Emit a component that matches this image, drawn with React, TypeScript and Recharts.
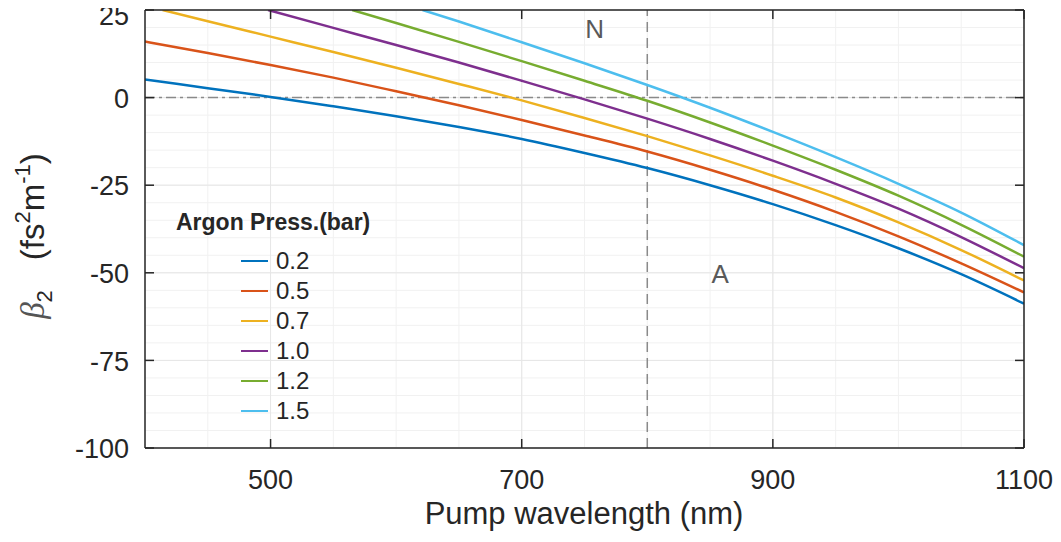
import React from 'react'
import { LineChart, Line, XAxis, YAxis, CartesianGrid, ReferenceLine, ReferenceDot, Legend } from 'recharts'

const FONT = '"Liberation Sans", Arial, Helvetica, sans-serif'
const INK = '#262626'

// pump wavelength (nm) and beta2 (fs^2/m), one pair per pressure
const wl02 = [400, 450, 500, 550, 600, 650, 700, 750, 800, 850, 900, 950, 1000, 1050, 1100]
const b02 = [5.2, 2.7, 0.2, -2.5, -5.3, -8.4, -11.8, -15.8, -20.1, -25.0, -30.4, -36.4, -43.0, -50.4, -58.8]
const wl05 = [400, 450, 500, 550, 600, 650, 700, 750, 800, 850, 900, 950, 1000, 1050, 1100]
const b05 = [16.0, 12.7, 9.3, 5.7, 1.8, -2.2, -6.4, -10.8, -15.4, -20.6, -26.3, -32.6, -39.6, -47.3, -55.6]
const wl07 = [414, 450, 500, 550, 600, 650, 700, 750, 800, 850, 900, 950, 1000, 1050, 1100]
const b07 = [25.0, 21.8, 17.4, 13.0, 8.5, 3.9, -0.8, -5.8, -11.0, -16.5, -22.3, -28.5, -35.6, -43.5, -52.2]
const wl10 = [498, 550, 600, 650, 700, 750, 800, 850, 900, 950, 1000, 1050, 1100]
const b10 = [25.0, 19.9, 15.0, 10.0, 4.8, -0.5, -6.0, -11.8, -18.0, -24.6, -31.7, -39.8, -48.7]
const wl12 = [565, 600, 650, 700, 750, 800, 850, 900, 950, 1000, 1050, 1100]
const b12 = [25.0, 21.3, 15.9, 10.4, 4.8, -0.9, -7.1, -13.7, -20.6, -28.0, -36.3, -45.4]
const wl15 = [621, 650, 700, 750, 800, 850, 900, 950, 1000, 1050, 1100]
const b15 = [25.0, 21.7, 15.8, 9.8, 3.6, -2.9, -9.8, -17.0, -24.6, -32.8, -42.1]

const pressures = ['0.2', '0.5', '0.7', '1.0', '1.2', '1.5']
const colors = ['#0072BD', '#D95319', '#EDB120', '#7E2F8E', '#77AC30', '#4DBEEE']
const wavelengths = [wl02, wl05, wl07, wl10, wl12, wl15]
const betas = [b02, b05, b07, b10, b12, b15]

const xTicks = [500, 700, 900, 1100]
const yTicks = [-100, -75, -50, -25, 0, 25]
const xMinor = [400, 450, 500, 550, 600, 650, 700, 750, 800, 850, 900, 950, 1000, 1050, 1100]
const yMinor = [-100, -95, -90, -85, -80, -75, -70, -65, -60, -55, -50, -45, -40, -35, -30, -25, -20, -15, -10, -5, 0, 5, 10, 15, 20, 25]

const annotations = [
  { text: 'N', wl: 758, beta: 19.6 },
  { text: 'A', wl: 858, beta: -50.3 },
]

const series = pressures.map((p, i) => ({
  name: p,
  color: colors[i],
  data: wavelengths[i].map((w, j) => ({ wl: w, beta: betas[i][j] })),
}))

const TICK_LEN = 9

const BottomTick = ({ x, y, payload }: any) => (
  <g>
    <line x1={x} y1={y} x2={x} y2={y - TICK_LEN} stroke={INK} strokeWidth={1.5} />
    <text x={x} y={y + 41} textAnchor="middle" fontSize={27} fill={INK} fontFamily={FONT}>{payload.value}</text>
  </g>
)

const TopTick = ({ x, y }: any) => (
  <line x1={x} y1={y} x2={x} y2={y + TICK_LEN} stroke={INK} strokeWidth={1.5} />
)

// the top label (25) sits on the window edge, so keep it a few px inside
const LeftTick = ({ x, y, payload }: any) => (
  <g>
    <line x1={x} y1={y} x2={x + TICK_LEN} y2={y} stroke={INK} strokeWidth={1.5} />
    <text x={x - 16} y={Math.max(y, 15)} dy="0.38em" textAnchor="end" fontSize={27} fill={INK} fontFamily={FONT}>{payload.value}</text>
  </g>
)

const RightTick = ({ x, y }: any) => (
  <line x1={x} y1={y} x2={x - TICK_LEN} y2={y} stroke={INK} strokeWidth={1.5} />
)

// beta_2 (fs^2 m^-1), rotated
const YLabel = () => (
  <text transform="translate(44,236) rotate(-90)" textAnchor="middle" fontSize={33} fill={INK} fontFamily={FONT}>
    <tspan fontStyle="italic" fontFamily='"Liberation Serif", serif' fill="#555">β</tspan>
    <tspan dy={8} fontSize={22}>2</tspan>
    <tspan dy={-8} dx={30}>(fs</tspan>
    <tspan dy={-14} fontSize={22}>2</tspan>
    <tspan dy={14}>m</tspan>
    <tspan dy={-14} fontSize={22}>-1</tspan>
    <tspan dy={14}>)</tspan>
  </text>
)

const XLabel = () => (
  <text x={584} y={524} textAnchor="middle" fontSize={31} fill={INK} fontFamily={FONT}>Pump wavelength (nm)</text>
)

const renderLegend = (props: any) => {
  const items = (props.payload || []).filter((p: any) => pressures.includes(p.value))
  return (
    <div style={{ fontFamily: FONT, color: INK }}>
      <div style={{ fontWeight: 'bold', fontSize: 23, lineHeight: '26px', marginBottom: 11, whiteSpace: 'nowrap' }}>Argon Press.(bar)</div>
      {items.map((p: any) => (
        <div key={p.value} style={{ display: 'flex', alignItems: 'center', height: 30, paddingLeft: 65 }}>
          <span style={{ display: 'inline-block', width: 27, height: 0, borderTop: `2.5px solid ${p.color}`, marginRight: 8 }} />
          <span style={{ fontSize: 24 }}>{p.value}</span>
        </div>
      ))}
    </div>
  )
}

export default function App() {
  return (
    <div style={{ width: 1061, height: 542, position: 'relative', margin: -8, background: '#fff' }}>
      <LineChart width={1061} height={542} margin={{ top: 9, right: 36, bottom: 0, left: 0 }} style={{ overflow: 'visible' }}>
        <CartesianGrid stroke="#f1f1f1" strokeWidth={1} verticalValues={xMinor} horizontalValues={yMinor} />
        <CartesianGrid stroke="#e6e6e6" strokeWidth={1} verticalValues={xTicks} horizontalValues={yTicks} />
        <XAxis
          dataKey="wl"
          type="number"
          domain={[400, 1100]}
          ticks={xTicks}
          interval={0}
          allowDataOverflow
          height={94}
          tickSize={0}
          tickMargin={0}
          stroke={INK}
          strokeWidth={1.5}
          tick={(p: any) => <BottomTick {...p} />}
          label={<XLabel />}
        />
        <XAxis
          xAxisId="top"
          dataKey="wl"
          orientation="top"
          type="number"
          domain={[400, 1100]}
          ticks={xTicks}
          interval={0}
          allowDataOverflow
          height={1}
          tickSize={0}
          tickMargin={0}
          stroke={INK}
          strokeWidth={1.5}
          tick={(p: any) => <TopTick {...p} />}
        />
        <YAxis
          type="number"
          domain={[-100, 25]}
          ticks={yTicks}
          interval={0}
          allowDataOverflow
          width={145}
          tickSize={0}
          tickMargin={0}
          stroke={INK}
          strokeWidth={1.5}
          tick={(p: any) => <LeftTick {...p} />}
          label={<YLabel />}
        />
        <YAxis
          yAxisId="right"
          orientation="right"
          type="number"
          domain={[-100, 25]}
          ticks={yTicks}
          interval={0}
          allowDataOverflow
          width={1}
          tickSize={0}
          tickMargin={0}
          stroke={INK}
          strokeWidth={1.5}
          tick={(p: any) => <RightTick {...p} />}
        />
        <ReferenceLine y={0} stroke="#8a8a8a" strokeWidth={1.5} strokeDasharray="10 4 3 4" />
        <ReferenceLine x={800} stroke="#8a8a8a" strokeWidth={1.5} strokeDasharray="10 6" />
        {series.map((s) => (
          <Line
            key={s.name}
            data={s.data}
            dataKey="beta"
            name={s.name}
            type="monotoneX"
            stroke={s.color}
            strokeWidth={2.5}
            dot={false}
            activeDot={false}
            isAnimationActive={false}
          />
        ))}
        {/* invisible copy of the first curve so that the mirrored top / right axes are drawn */}
        <Line
          data={series[0].data}
          dataKey="beta"
          name="mirror"
          xAxisId="top"
          yAxisId="right"
          stroke="none"
          legendType="none"
          dot={false}
          activeDot={false}
          isAnimationActive={false}
        />
        {annotations.map((a) => (
          <ReferenceDot
            key={a.text}
            x={a.wl}
            y={a.beta}
            r={1}
            fill="none"
            stroke="none"
            label={{ value: a.text, position: 'center', fontSize: 26, fill: '#595959', fontFamily: FONT }}
          />
        ))}
        <Legend
          layout="vertical"
          align="center"
          verticalAlign="middle"
          content={renderLegend}
          wrapperStyle={{ left: 176, top: 209, width: 'auto', height: 'auto' }}
        />
      </LineChart>
    </div>
  )
}
